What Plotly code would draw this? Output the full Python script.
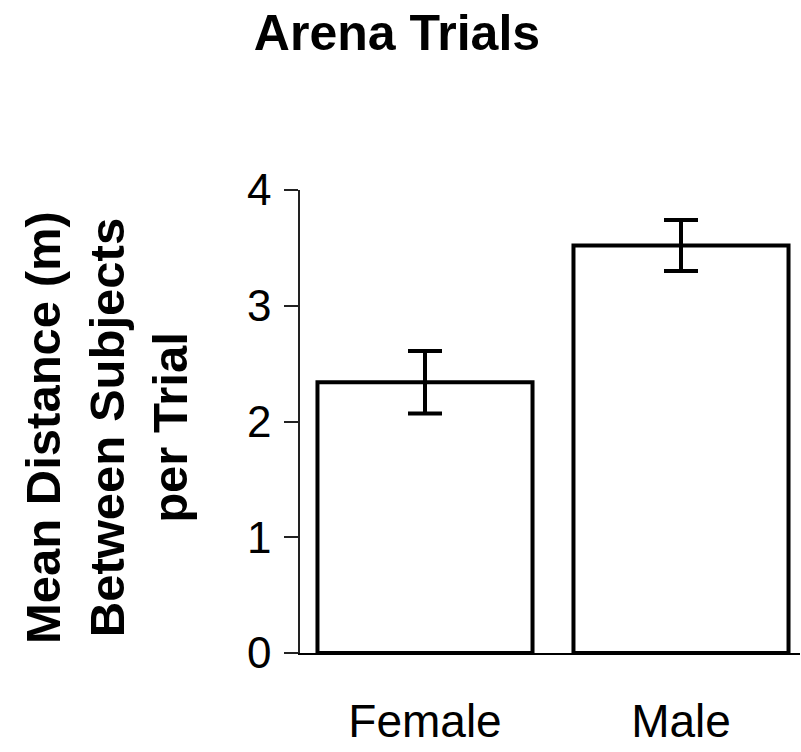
import plotly.graph_objects as go

categories = ["Female", "Male"]
means = [2.34, 3.52]
errors = [0.27, 0.22]
y_ticks = [0, 1, 2, 3, 4]

fig = go.Figure()
fig.add_trace(go.Bar(
    x=categories, y=means,
    width=0.84,
    marker=dict(color="white", line=dict(color="black", width=4)),
    error_y=dict(type="data", array=errors, visible=True,
                 color="black", thickness=4, width=17),
))

FONT = "Liberation Sans, Arial, sans-serif"
L, R, T, B = 300, 1, 190, 99
W, H = 801, 752
pw = W - L - R
x0 = -(425 - L) / 256.0
fig.update_layout(
    width=W, height=H,
    margin=dict(l=L, r=R, t=T, b=B, pad=0),
    paper_bgcolor="white", plot_bgcolor="white",
    showlegend=False,
    title=dict(text="<b>Arena Trials</b>", x=397 / W, xanchor="center",
               y=1 - 32 / H, yanchor="middle",
               font=dict(family=FONT, size=50, color="black")),
    xaxis=dict(range=[x0, x0 + pw / 256.0], showline=True, linecolor="black",
               linewidth=2, ticks="", showgrid=False, zeroline=False,
               tickfont=dict(family=FONT, size=46, color="black")),
    yaxis=dict(range=[0, 4], tickvals=y_ticks, showline=True, linecolor="#222",
               linewidth=1.5, ticks="outside", ticklen=14, tickwidth=1.5,
               tickcolor="#222", showgrid=False, zeroline=False,
               tickfont=dict(family=FONT, size=44, color="black")),
    annotations=[dict(
        text="<b>Mean Distance (m)<br>Between Subjects<br>per Trial</b>",
        xref="paper", yref="paper",
        x=(106 - L) / pw, y=(H - B - 428) / (H - T - B),
        xanchor="center", yanchor="middle", textangle=-90, showarrow=False,
        font=dict(family=FONT, size=49, color="black"))],
)
fig.update_xaxes(ticklabelstandoff=27)
fig.update_yaxes(ticklabelstandoff=4)
fig.write_html("out.html")
